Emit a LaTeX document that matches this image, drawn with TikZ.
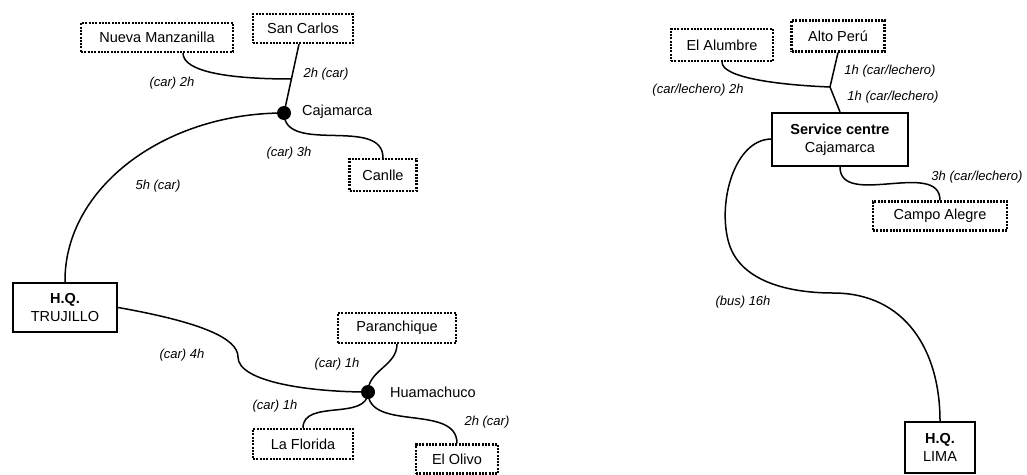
\documentclass[tikz,border=0pt]{standalone}
\usepackage{fontspec}
\setmainfont{Liberation Sans}
\begin{document}
\begin{tikzpicture}[x=1pt,y=-1pt,
  place/.style={draw, line width=2.2pt, dash pattern=on 2pt off 1.3pt, minimum height=29pt, inner sep=0pt, font=\fontsize{14.5}{16}\selectfont},
  hq/.style={draw, line width=2.2pt, inner sep=0pt, align=center, font=\fontsize{14.5}{18}\selectfont},
  lbl/.style={font=\fontsize{13}{14}\selectfont\itshape, inner sep=0pt},
  town/.style={font=\fontsize{14.5}{16}\selectfont, inner sep=0pt, anchor=west},
  hub/.style={circle, fill=black, minimum size=14pt, inner sep=0pt},
  road/.style={line width=1.5pt}]
\useasboundingbox (0,0) rectangle (1027,474);

% ---------- left network ----------
\node[place, minimum width=152pt] (nm) at (157,37.5) {Nueva Manzanilla};
\node[place, minimum width=100pt] (sc) at (303,28.5) {San Carlos};
\node[hub] (caj) at (284,113) {};
\node[town] (cajt) at (302,112) {Cajamarca};
\node[place, minimum width=67pt, minimum height=32pt] (cn) at (383,175) {Canlle};
\node[hq, minimum width=104pt, minimum height=49pt] (tr) at (65,307.5) {\textbf{H.Q.}\\TRUJILLO};
\node[hub] (hu) at (368,392) {};
\node[town] (hut) at (390,392) {Huamachuco};
\node[place, minimum width=118pt, minimum height=30pt] (pq) at (397,328) {Paranchique};
\node[place, minimum width=100pt, minimum height=30pt] (lf) at (303,444) {La Florida};
\node[place, minimum width=82pt, minimum height=29pt] (eo) at (457,459) {El Olivo};

\coordinate (j1) at (291.5,79);
\draw[road] ([xshift=-4pt]sc.south) -- (caj.center);
\draw[road] ([xshift=26pt]nm.south) .. controls (183,72) and (230,79) .. (j1);
\draw[road] (caj.center) to[out=-90,in=90] (cn.north);
\draw[road] (caj.center) .. controls (163,113) and (64,189) .. (tr.north);
\draw[road] (tr.east) .. controls (200,322) and (238,338) .. (238,357) .. controls (238,382) and (310,392) .. (hu.center);
\draw[road] (pq.south) to[out=-90,in=90] (hu.center);
\draw[road] (hu.center) to[out=-90,in=90] (lf.north);
\draw[road] (hu.center) to[out=-90,in=90] (eo.north);

\node[lbl] (l1) at (326,74) {2h (car)};
\node[lbl] (l2) at (172,83) {(car) 2h};
\node[lbl] (l3) at (289,153) {(car) 3h};
\node[lbl] (l4) at (158,186) {5h (car)};
\node[lbl] (l5) at (182,355) {(car) 4h};
\node[lbl] (l6) at (337,364) {(car) 1h};
\node[lbl] (l7) at (275,406) {(car) 1h};
\node[lbl] (l8) at (487,422) {2h (car)};

% ---------- right network ----------
\node[place, minimum width=102pt, minimum height=32pt] (ea) at (722,45) {El Alumbre};
\node[place, minimum width=93pt, minimum height=31pt] (ap) at (838,36) {Alto Perú};
\node[hq, minimum width=136pt, minimum height=53pt] (sv) at (840,139.5) {\textbf{Service centre}\\Cajamarca};
\node[place, minimum width=134pt, minimum height=29pt] (ca) at (940,216) {Campo Alegre};
\node[hq, minimum width=70pt, minimum height=51pt] (li) at (940,447.5) {\textbf{H.Q.}\\LIMA};

\coordinate (j2) at (830,87);
\draw[road] (ap.south) -- (j2) -- (sv.north);
\draw[road] (ea.south) .. controls (722,78) and (780,85) .. (j2);
\draw[road] (sv.south) to[out=-90,in=90] (ca.north);
\draw[road] ([yshift=0.5pt]sv.west) .. controls (735,140) and (718,200) .. (728,240)
   .. controls (738,282) and (790,293) .. (833,293)
   .. controls (905,293) and (940,350) .. (li.north);

\node[lbl] (r1) at (890,71) {1h (car/lechero)};
\node[lbl] (r2) at (893,97) {1h (car/lechero)};
\node[lbl] (r3) at (698,90) {(car/lechero) 2h};
\node[lbl] (r4) at (977,177) {3h (car/lechero)};
\node[lbl] (r5) at (743,302) {(bus) 16h};
\end{tikzpicture}
\end{document}
